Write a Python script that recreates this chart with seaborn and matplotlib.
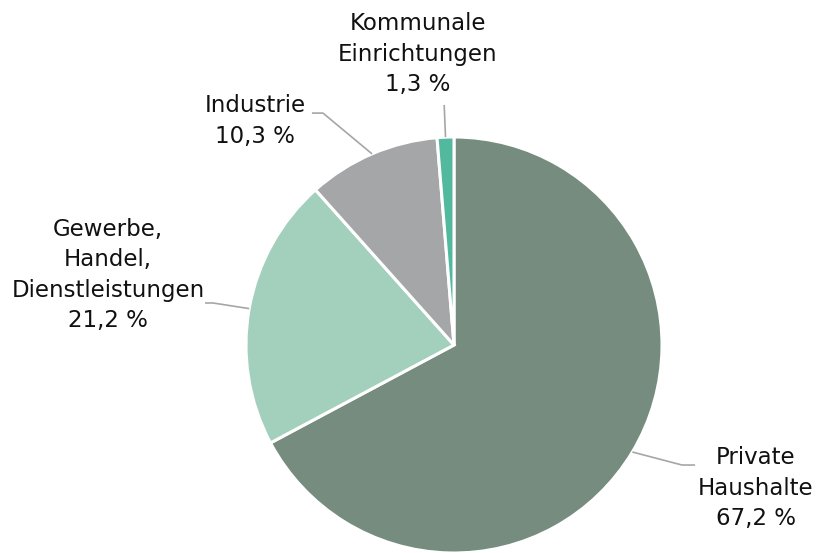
import numpy as np
import matplotlib
matplotlib.use("Agg")
import matplotlib.pyplot as plt
import seaborn as sns

# ---- data ----
categories = ["Private\nHaushalte", "Gewerbe,\nHandel,\nDienstleistungen", "Industrie", "Kommunale\nEinrichtungen"]
shares = [67.2, 21.2, 10.3, 1.3]
colors = ["#758C7F", "#A3CFBD", "#A5A6A8", "#52B89E"]

# ---- layout (data units, radius = 1) ----
label_pos = [(1.452, -0.688), (-1.663, 0.337), (-0.957, 1.077), (-0.173, 1.399)]
elbows = [[(1.096, -0.577), (1.159, -0.577)],
          [(-1.159, 0.202), (-1.197, 0.202)],
          [(-0.630, 1.115), (-0.683, 1.115)],
          [None, None]]

sns.set_theme(style="white")
plt.rcParams['font.family'] = ['DejaVu Sans']

W, H = 819, 553
fig = plt.figure(figsize=(W / 100, H / 100), dpi=100)
cx, cy, R = 454, 345, 208
ax = fig.add_axes([(cx - R) / W, (H - cy - R) / H, 2 * R / W, 2 * R / H])

wedges, _ = ax.pie(shares, colors=colors, startangle=90, counterclock=False,
                   radius=1, wedgeprops=dict(edgecolor="white", linewidth=2.2))
ax.set_xlim(-1, 1)
ax.set_ylim(-1, 1)
ax.set_aspect("equal")
ax.axis("off")

def fmt(v):
    return f"{v:.1f}".replace(".", ",") + " %"

line_col = "#A6A6A6"
for w, cat, v, pos, el in zip(wedges, categories, shares, label_pos, elbows):
    ang = np.deg2rad((w.theta1 + w.theta2) / 2)
    ex, ey = np.cos(ang), np.sin(ang)
    if el[0] is None:
        xs = [ex, ex * 1.155]
        ys = [ey, ey * 1.155]
    else:
        xs = [ex, el[0][0], el[1][0]]
        ys = [ey, el[0][1], el[1][1]]
    ax.plot(xs, ys, color=line_col, lw=1.2, clip_on=False, solid_capstyle="butt")
    ax.text(pos[0], pos[1], cat + "\n" + fmt(v), ha="center", va="center",
            fontsize=16.5, color="#111111", linespacing=1.4, clip_on=False)

fig.savefig("out.png", dpi=100)
